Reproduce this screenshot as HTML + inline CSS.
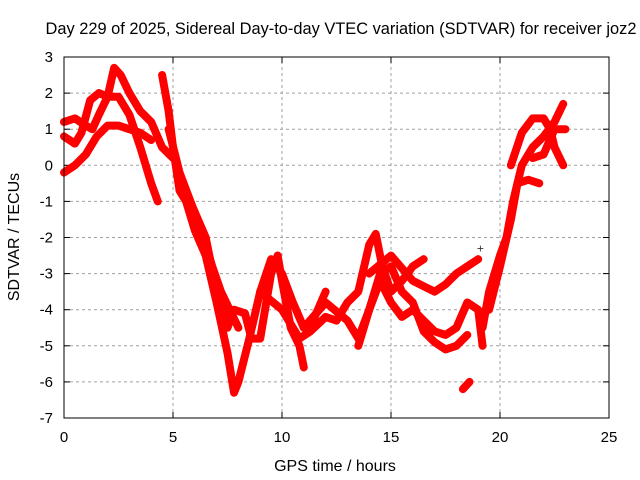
<!DOCTYPE html>
<html><head><meta charset="utf-8"><style>
body{margin:0;background:#fff}
svg{display:block;font-family:"Liberation Sans",sans-serif}
</style></head><body>
<svg id="chart" width="640" height="480">
<rect width="640" height="480" fill="#fff"/>
<text x="341" y="34" font-size="16.4" text-anchor="middle">Day 229 of 2025, Sidereal Day-to-day VTEC variation (SDTVAR) for receiver joz2</text>
<text x="335" y="471" font-size="16" text-anchor="middle">GPS time / hours</text>
<text x="19" y="237" font-size="16" text-anchor="middle" transform="rotate(-90 19 237)">SDTVAR / TECUs</text>
<g id="grid"></g><g id="ticks"></g><g id="marks"></g>
<rect x="64" y="57" width="545" height="361" fill="none" stroke="#000" stroke-width="1"/>
</svg>
<script>
const xTicks=[0,5,10,15,20,25];
const yTicks=[3,2,1,0,-1,-2,-3,-4,-5,-6,-7];
const trackA=[[0,-0.2],[0.5,0],[1,0.3],[1.5,0.8],[2,1.1],[2.5,1.1],[3,1.0],[3.5,0.9],[4,0.7]];
const trackB=[[0,1.2],[0.5,1.3],[1,1.1],[1.3,1.0],[1.6,1.4],[2,1.9],[2.3,2.7],[2.6,2.5],[3,2.0],[3.5,1.5],[4,1.2],[4.5,0.5],[5,0.2]];
const trackC=[[0,0.8],[0.5,0.6],[0.8,0.9],[1.2,1.8],[1.6,2.0],[2,1.9],[2.5,1.9],[3,1.4],[3.5,0.5],[4,-0.5],[4.3,-1.0]];
const trackD=[[4.5,2.5],[4.8,1.5],[5,0.5],[5.3,-0.7],[5.6,-1.0],[6,-1.8],[6.5,-2.5],[7,-3.8],[7.5,-5.2],[7.8,-6.3],[8,-6.0],[8.5,-4.8],[9,-3.5],[9.5,-2.6],[10,-3.0],[10.5,-3.8],[11,-4.5],[11.5,-4.2],[12,-3.5]];
const trackE=[[5.5,-0.6],[6,-1.3],[6.5,-2.0],[7,-3.5],[7.5,-4.5],[7.8,-4.0],[8.3,-4.1],[8.6,-4.8],[9,-4.8],[9.5,-3.0],[9.8,-2.5],[10,-3.2],[10.4,-4.5],[10.8,-5.0],[11,-5.6]];
const trackF=[[4.8,1.0],[5.3,-0.2],[5.8,-1.0],[6.3,-1.8],[6.8,-2.8],[7.2,-3.5],[7.6,-4.0],[8,-4.5]];
const trackG=[[9,-3.5],[10,-4],[10.8,-4.8],[11.3,-4.6],[12,-4.2],[12.5,-4.3],[13,-3.8],[13.5,-3.5],[14,-2.2],[14.3,-1.9],[14.6,-2.8],[15,-3.5],[15.5,-3.2],[16,-2.8],[16.5,-2.6]];
const trackH=[[11,-4.5],[12,-3.8],[13,-4.3],[13.5,-4.8],[14,-4],[14.5,-3.2],[15,-3.8],[15.5,-4.2],[16,-4.0],[16.5,-4.3],[17,-4.6],[17.5,-4.7],[18,-4.5],[18.5,-3.8],[19,-4.0],[19.2,-5.0]];
const trackI=[[13.5,-5.0],[14,-4.0],[14.5,-3.0],[15,-2.8],[15.5,-3.5],[16,-3.8],[16.5,-4.6],[17,-4.9],[17.5,-5.1],[18,-5.0],[18.5,-4.7]];
const trackJ=[[14,-3],[15,-2.5],[16,-3.2],[17,-3.5],[17.5,-3.3],[18,-3.0],[18.5,-2.8],[19,-2.6]];
const trackK=[[18.3,-6.2],[18.6,-6.0]];
const trackL=[[19.2,-4.5],[19.5,-3.5],[20,-2.5],[20.3,-2],[20.6,-1.0],[21,0],[21.5,0.5],[22,0.8],[22.5,1.2],[22.9,1.7]];
const trackM=[[19.5,-4.0],[20,-2.8],[20.5,-1.5],[20.8,-0.5],[21.3,-0.4],[21.8,-0.5]];
const trackN=[[20.5,0],[21,0.9],[21.5,1.3],[22,1.3],[22.3,1.0],[22.5,0.5],[22.9,0.0]];
const trackO=[[21.5,0.2],[22,0.3],[22.5,1.0],[23,1.0]];
const outlier=[[19.1,-2.3]];
const tracks=[trackA,trackB,trackC,trackD,trackE,trackF,trackG,trackH,trackI,trackJ,trackK,trackL,trackM,trackN,trackO];
const X0=64,X1=609,Y0=418,Y1=57;
const xs=v=>X0+(v-0)/(25-0)*(X1-X0);
const ys=v=>Y0-(v+7)/(10)*(Y0-Y1);
const NS='http://www.w3.org/2000/svg';
function mk(t,a,p){const e=document.createElementNS(NS,t);for(const k in a)e.setAttribute(k,a[k]);p.appendChild(e);return e;}
const grid=document.getElementById('grid'),ticks=document.getElementById('ticks'),marks=document.getElementById('marks');
xTicks.forEach(t=>{const x=xs(t);
 if(t>0&&t<25){const g=mk('line',{x1:x,x2:x,y1:Y0,y2:Y1,stroke:'#a0a0a0','stroke-dasharray':'3,3'},grid);
 
 }
 const l=mk('text',{x:x,y:Y0+24,'font-size':15,'text-anchor':'middle'},ticks);l.textContent=t;
 
 
 mk('line',{x1:x,x2:x,y1:Y0,y2:Y0-6,stroke:'#000'},ticks);mk('line',{x1:x,x2:x,y1:Y1,y2:Y1+6,stroke:'#000'},ticks);});
yTicks.forEach(t=>{const y=ys(t);
 if(t<3&&t>-7){const g=mk('line',{x1:X0,x2:X1,y1:y,y2:y,stroke:'#a0a0a0','stroke-dasharray':'3,3'},grid);
 
 }
 const l=mk('text',{x:X0-11,y:y+5,'font-size':15,'text-anchor':'end'},ticks);l.textContent=t;
 
 
 mk('line',{x1:X0,x2:X0+6,y1:y,y2:y,stroke:'#000'},ticks);mk('line',{x1:X1,x2:X1-6,y1:y,y2:y,stroke:'#000'},ticks);});
tracks.forEach((tr,i)=>{
 const p=mk('polyline',{points:tr.map(d=>xs(d[0])+','+ys(d[1])).join(' '),fill:'none',stroke:'#f00','stroke-width':8,'stroke-linejoin':'round','stroke-linecap':'round'},marks);
 
 
});
outlier.forEach(d=>{const t=mk('text',{x:xs(d[0]),y:ys(d[1])+4,'font-size':12,'text-anchor':'middle',fill:'#333'},marks);t.textContent='+';
 
 });
</script>
</body></html>
